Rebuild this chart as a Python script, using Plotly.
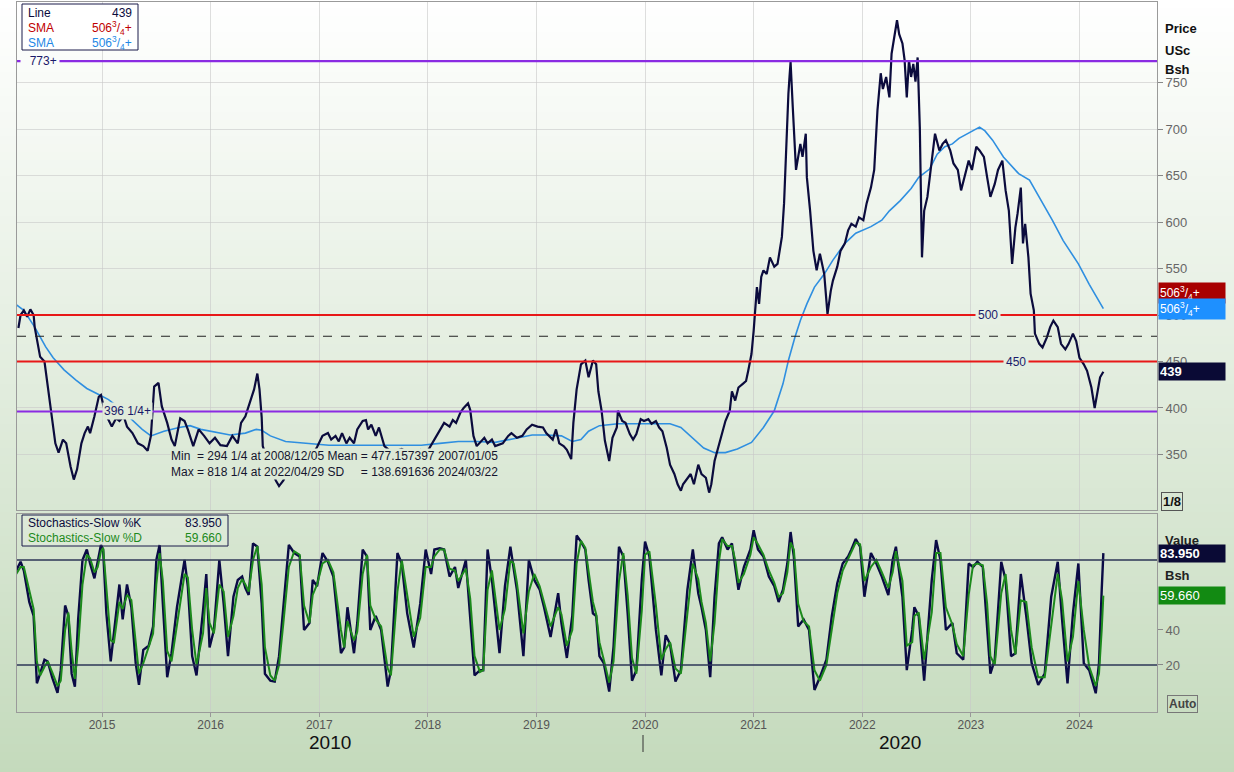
import plotly.graph_objects as go

# ---------------- DATA ----------------
price_dates = [2014.23, 2014.25, 2014.28, 2014.31, 2014.34, 2014.37, 2014.38, 2014.43, 2014.47, 2014.50,
               2014.54, 2014.57, 2014.60, 2014.64, 2014.67, 2014.71, 2014.74, 2014.77, 2014.81, 2014.84,
               2014.87, 2014.89, 2014.93, 2014.97, 2014.99, 2015.03, 2015.06, 2015.09, 2015.13, 2015.16,
               2015.20, 2015.23, 2015.28, 2015.33, 2015.38, 2015.42, 2015.45, 2015.48, 2015.52, 2015.55,
               2015.60, 2015.64, 2015.67, 2015.72, 2015.76, 2015.79, 2015.84, 2015.89, 2015.94, 2015.99,
               2016.04, 2016.09, 2016.15, 2016.20, 2016.25, 2016.28, 2016.32, 2016.37, 2016.40, 2016.43,
               2016.45, 2016.47, 2016.48, 2016.52, 2016.57, 2016.60, 2016.63, 2016.67, 2016.72, 2016.79,
               2016.86, 2016.93, 2016.98, 2017.03, 2017.08, 2017.11, 2017.15, 2017.18, 2017.21, 2017.25,
               2017.28, 2017.32, 2017.35, 2017.40, 2017.43, 2017.45, 2017.48, 2017.52, 2017.55, 2017.59,
               2017.60, 2017.67, 2017.76, 2017.84, 2017.93, 2017.99, 2018.04, 2018.09, 2018.15, 2018.20,
               2018.23, 2018.26, 2018.30, 2018.33, 2018.37, 2018.39, 2018.42, 2018.45, 2018.52, 2018.55,
               2018.59, 2018.62, 2018.69, 2018.74, 2018.77, 2018.82, 2018.87, 2018.91, 2018.96, 2019.01,
               2019.06, 2019.09, 2019.15, 2019.18, 2019.21, 2019.25, 2019.28, 2019.32, 2019.34, 2019.37,
               2019.41, 2019.45, 2019.48, 2019.52, 2019.55, 2019.57, 2019.60, 2019.63, 2019.67, 2019.70,
               2019.74, 2019.75, 2019.79, 2019.82, 2019.86, 2019.89, 2019.92, 2019.96, 2019.99, 2020.03,
               2020.06, 2020.10, 2020.13, 2020.16, 2020.20, 2020.23, 2020.27, 2020.30, 2020.33, 2020.35,
               2020.39, 2020.42, 2020.45, 2020.49, 2020.52, 2020.56, 2020.59, 2020.61, 2020.64, 2020.68,
               2020.71, 2020.74, 2020.78, 2020.80, 2020.83, 2020.86, 2020.90, 2020.93, 2020.95, 2020.98,
               2021.00, 2021.02, 2021.03, 2021.05, 2021.07, 2021.09, 2021.12, 2021.15, 2021.19, 2021.22,
               2021.26, 2021.28, 2021.30, 2021.32, 2021.33, 2021.34, 2021.36, 2021.38, 2021.39, 2021.43,
               2021.45, 2021.48, 2021.49, 2021.52, 2021.55, 2021.58, 2021.61, 2021.65, 2021.67, 2021.68,
               2021.71, 2021.73, 2021.77, 2021.80, 2021.84, 2021.87, 2021.90, 2021.94, 2021.97, 2022.01,
               2022.04, 2022.08, 2022.11, 2022.14, 2022.17, 2022.19, 2022.22, 2022.25, 2022.27, 2022.30,
               2022.32, 2022.34, 2022.37, 2022.39, 2022.41, 2022.43, 2022.45, 2022.47, 2022.49, 2022.51,
               2022.53, 2022.55, 2022.57, 2022.60, 2022.64, 2022.67, 2022.71, 2022.74, 2022.77, 2022.81,
               2022.84, 2022.88, 2022.91, 2022.95, 2022.98, 2023.01, 2023.05, 2023.08, 2023.12, 2023.15,
               2023.18, 2023.22, 2023.25, 2023.29, 2023.32, 2023.35, 2023.38, 2023.41, 2023.43, 2023.46,
               2023.48, 2023.50, 2023.53, 2023.55, 2023.58, 2023.59, 2023.63, 2023.66, 2023.70, 2023.73,
               2023.76, 2023.80, 2023.83, 2023.87, 2023.90, 2023.94, 2023.97, 2024.00, 2024.04, 2024.07,
               2024.11, 2024.14, 2024.16, 2024.19, 2024.22]
price_values = [486, 500, 505, 498, 506, 500, 487, 455, 450, 423,
                391, 362, 352, 366, 362, 337, 323, 334, 362, 373,
                380, 373, 391, 412, 414, 394, 387, 380, 389, 386,
                391, 380, 373, 362, 359, 354, 370, 423, 427, 402,
                384, 366, 359, 389, 386, 377, 359, 377, 370, 362,
                368, 360, 359, 370, 362, 384, 391, 409, 420, 437,
                420, 390, 359, 345, 330, 322, 316, 322, 335, 345,
                352, 348, 358, 370, 373, 366, 370, 364, 373, 362,
                368, 362, 377, 386, 387, 377, 382, 370, 379, 362,
                359, 352, 356, 350, 355, 352, 362, 373, 384, 380,
                387, 384, 395, 400, 405, 398, 370, 359, 368, 362,
                366, 359, 362, 370, 373, 368, 370, 377, 382, 380,
                379, 373, 366, 377, 362, 359, 355, 345, 384, 420,
                447, 451, 433, 451, 447, 418, 397, 365, 343, 368,
                379, 397, 386, 384, 372, 366, 372, 388, 386, 388,
                383, 386, 379, 375, 357, 339, 329, 318, 311, 318,
                325, 329, 318, 339, 329, 325, 309, 318, 343, 361,
                375, 386, 397, 418, 408, 422, 426, 429, 440, 458,
                483, 512, 530, 512, 541, 548, 544, 562, 552, 555,
                584, 620, 684, 738, 756, 772, 724, 677, 656, 684,
                670, 695, 648, 612, 569, 548, 566, 544, 512, 501,
                526, 537, 552, 569, 577, 591, 598, 595, 605, 602,
                620, 637, 656, 720, 760, 743, 756, 734, 781, 806,
                817, 802, 792, 774, 734, 774, 756, 770, 751, 777,
                702, 562, 612, 627, 666, 695, 677, 684, 688, 677,
                663, 656, 634, 652, 666, 656, 681, 677, 670, 648,
                627, 641, 656, 666, 634, 612, 555, 594, 609, 637,
                577, 598, 562, 523, 505, 480, 469, 465, 476, 487,
                494, 487, 469, 463, 469, 480, 472, 454, 447, 440,
                422, 400, 415, 433, 439]

sma_dates = [2014.21, 2014.28, 2014.38, 2014.48, 2014.55, 2014.65, 2014.76, 2014.86, 2014.96, 2015.06,
             2015.16, 2015.26, 2015.37, 2015.45, 2015.57, 2015.71, 2015.81, 2015.91, 2016.04, 2016.18,
             2016.32, 2016.42, 2016.47, 2016.55, 2016.69, 2016.86, 2017.09, 2017.43, 2017.77, 2017.94,
             2018.11, 2018.28, 2018.45, 2018.62, 2018.79, 2018.96, 2019.09, 2019.23, 2019.33, 2019.41,
             2019.48, 2019.58, 2019.75, 2019.92, 2020.10, 2020.23, 2020.33, 2020.44, 2020.54, 2020.64,
             2020.74, 2020.85, 2020.98, 2021.09, 2021.19, 2021.27, 2021.32, 2021.38, 2021.43, 2021.49,
             2021.56, 2021.65, 2021.73, 2021.84, 2021.94, 2022.08, 2022.18, 2022.25, 2022.35, 2022.45,
             2022.52, 2022.62, 2022.69, 2022.76, 2022.83, 2022.89, 2023.00, 2023.08, 2023.13, 2023.20,
             2023.30, 2023.44, 2023.54, 2023.65, 2023.75, 2023.85, 2023.99, 2024.09, 2024.22]
sma_values = [511, 505, 487, 466, 454, 441, 430, 421, 415, 409,
              400, 389, 377, 370, 375, 379, 381, 377, 374, 371,
              373, 377, 376, 370, 364, 362, 360, 360, 360, 360,
              362, 364, 364, 363, 367, 371, 371, 370, 364, 366,
              375, 381, 383, 383, 383, 383, 379, 368, 357, 352,
              352, 356, 363, 379, 397, 426, 451, 476, 494, 512,
              530, 544, 559, 577, 588, 595, 602, 612, 623, 636,
              648, 657, 673, 681, 684, 690, 697, 702, 698, 688,
              670, 652, 645, 623, 602, 580, 555, 533, 506.75]

stoch_dates = [2014.21, 2014.25, 2014.28, 2014.33, 2014.37, 2014.40, 2014.43, 2014.47, 2014.50, 2014.54,
               2014.59, 2014.62, 2014.66, 2014.69, 2014.72, 2014.75, 2014.78, 2014.82, 2014.86, 2014.89,
               2014.93, 2014.96, 2014.99, 2015.01, 2015.04, 2015.08, 2015.11, 2015.16, 2015.19, 2015.23,
               2015.27, 2015.31, 2015.34, 2015.38, 2015.43, 2015.47, 2015.50, 2015.53, 2015.56, 2015.60,
               2015.64, 2015.69, 2015.76, 2015.79, 2015.83, 2015.87, 2015.93, 2015.96, 2015.99, 2016.03,
               2016.08, 2016.12, 2016.16, 2016.21, 2016.25, 2016.29, 2016.32, 2016.35, 2016.39, 2016.43,
               2016.47, 2016.50, 2016.55, 2016.59, 2016.63, 2016.67, 2016.72, 2016.77, 2016.82, 2016.86,
               2016.91, 2016.94, 2016.98, 2017.03, 2017.08, 2017.13, 2017.20, 2017.23, 2017.26, 2017.32,
               2017.35, 2017.40, 2017.44, 2017.47, 2017.52, 2017.57, 2017.63, 2017.66, 2017.72, 2017.76,
               2017.81, 2017.87, 2017.93, 2017.98, 2018.03, 2018.06, 2018.11, 2018.15, 2018.20, 2018.25,
               2018.28, 2018.35, 2018.39, 2018.43, 2018.48, 2018.51, 2018.55, 2018.59, 2018.66, 2018.71,
               2018.76, 2018.79, 2018.82, 2018.88, 2018.93, 2018.98, 2019.03, 2019.07, 2019.13, 2019.20,
               2019.23, 2019.28, 2019.33, 2019.37, 2019.41, 2019.45, 2019.48, 2019.52, 2019.55, 2019.58,
               2019.62, 2019.67, 2019.71, 2019.76, 2019.80, 2019.84, 2019.88, 2019.92, 2019.97, 2020.00,
               2020.04, 2020.10, 2020.15, 2020.19, 2020.23, 2020.28, 2020.33, 2020.39, 2020.44, 2020.49,
               2020.52, 2020.56, 2020.60, 2020.64, 2020.68, 2020.71, 2020.76, 2020.80, 2020.83, 2020.86,
               2020.91, 2020.97, 2021.00, 2021.04, 2021.09, 2021.14, 2021.19, 2021.23, 2021.27, 2021.31,
               2021.34, 2021.37, 2021.41, 2021.46, 2021.51, 2021.56, 2021.61, 2021.67, 2021.72, 2021.77,
               2021.82, 2021.87, 2021.90, 2021.94, 2021.98, 2022.02, 2022.08, 2022.13, 2022.18, 2022.24,
               2022.28, 2022.31, 2022.37, 2022.41, 2022.46, 2022.48, 2022.52, 2022.57, 2022.64, 2022.68,
               2022.72, 2022.77, 2022.83, 2022.87, 2022.93, 2022.98, 2023.02, 2023.06, 2023.11, 2023.15,
               2023.18, 2023.22, 2023.28, 2023.32, 2023.37, 2023.41, 2023.46, 2023.51, 2023.56, 2023.62,
               2023.68, 2023.74, 2023.80, 2023.84, 2023.89, 2023.94, 2023.99, 2024.04, 2024.09, 2024.15,
               2024.18, 2024.205, 2024.22]
stoch_k = [74, 79, 74, 56, 48, 9.5, 15, 23, 22, 13,
           4, 17, 54, 48, 15, 7.6, 46, 80, 86, 78,
           69.5, 80, 88.6, 86, 49.5, 22, 40, 66, 46, 66,
           53, 21, 8.6, 28.6, 31, 42, 80, 88.6, 55, 13,
           26.7, 53, 80, 65, 25, 14, 51, 72, 30, 40,
           80, 55, 25, 59, 68.6, 70.5, 64, 60, 89.5, 87.6,
           55, 15, 11, 10.5, 25, 53, 88.6, 84, 82, 40,
           44, 68.6, 65, 84, 79, 70.5, 26.7, 30, 53, 26.7,
           44, 86, 82, 40, 48, 40, 7.6, 17, 84, 78,
           49.5, 30, 55, 86, 72, 86, 86.7, 86, 70.5, 76,
           64, 80, 48, 14, 17, 17, 86, 68.6, 26.7, 65,
           87.6, 74, 63, 25, 80, 68.6, 63, 53, 36, 61,
           44, 24, 48, 94, 90.5, 86, 68.6, 49.5, 48, 25,
           21, 4.8, 30.5, 87.6, 82, 49.5, 11, 17, 68.6, 90.5,
           82, 40, 14, 37, 32, 10.5, 17, 63, 86, 61,
           53, 40, 13, 59, 89.5, 93, 86, 89.5, 76, 63,
           76, 86, 97, 86, 82, 70.5, 65, 56, 63, 78,
           96, 82, 42, 46, 40, 5.7, 13, 23, 48, 66.7,
           78, 82, 86, 92, 87.6, 59, 84, 78, 70.5, 60,
           80, 87.6, 59, 17, 40, 53, 48, 11, 68.6, 91.4,
           80, 40, 44, 26.7, 23, 78, 76, 79, 76, 44,
           15, 23, 79, 68.6, 25, 26.7, 72, 48, 21, 8.6,
           15, 59, 79, 46, 9.5, 49.5, 78, 21, 17, 3.8,
           21, 63, 83.95]
stoch_d = [72, 76, 76, 62, 52, 22, 14, 19, 22, 16,
           8, 11, 40, 50, 28, 12, 30, 66, 83, 81,
           73, 76, 85, 87, 62, 34, 33, 56, 52, 60,
           57, 32, 15, 21, 30, 38, 66, 84, 68, 28,
           22, 44, 72, 70, 40, 20, 38, 64, 44, 38,
           66, 62, 36, 48, 64, 69, 66, 62, 80, 88,
           66, 30, 14, 11, 20, 44, 76, 85, 83, 54,
           44, 60, 66, 78, 80, 73, 40, 30, 45, 34,
           39, 72, 83, 54, 46, 42, 18, 14, 62, 80,
           59, 36, 47, 76, 76, 82, 86, 86, 75, 74,
           68, 75, 58, 25, 16, 17, 63, 74, 40, 52,
           80, 78, 67, 38, 62, 72, 65, 56, 42, 53,
           49, 31, 40, 78, 91, 87, 74, 56, 49, 33,
           23, 10, 22, 68, 84, 60, 24, 15, 51, 83,
           85, 54, 23, 29, 33, 18, 15, 48, 78, 69,
           56, 44, 22, 44, 79, 92, 88, 88, 80, 67,
           72, 83, 93, 89, 83, 74, 67, 59, 61, 73,
           90, 86, 55, 45, 42, 17, 11, 20, 40, 61,
           74, 81, 85, 90, 89, 68, 76, 80, 73, 64,
           73, 85, 68, 31, 33, 48, 50, 23, 50, 84,
           84, 53, 43, 32, 25, 60, 77, 78, 77, 55,
           25, 20, 61, 72, 40, 26, 57, 56, 30, 13,
           13, 44, 72, 57, 22, 36, 68, 40, 19, 8,
           15, 40, 59.66]

year_ticks = [2015, 2016, 2017, 2018, 2019, 2020, 2021, 2022, 2023, 2024]
year_labels = [str(y) for y in year_ticks]
price_ticks = [350, 400, 450, 500, 550, 600, 650, 700, 750]
stoch_ticks = [20, 40]
ref_high, ref_low = 773, 396.25
red_levels = [500, 450]
mean_value = 477.157397
last_price = 439
last_sma = "506<sup>3</sup>/<sub>4</sub>+"
last_k, last_d = 83.95, 59.66

# ---------------- LAYOUT HELPERS ----------------
W, H = 1234, 772
L, R, T, B = 17, 77, 2, 60
PW, PH = W - L - R, H - T - B


def px(x):
    return (x - L) / PW


def py(y):
    return (H - B - y) / PH


TOP_C = (255, 255, 255)
BOT_C = (196, 218, 188)


def bg_at(ypix):
    t = max(0.0, min(1.0, ypix / H))
    return 'rgb(%d,%d,%d)' % tuple(round(a + (b - a) * t) for a, b in zip(TOP_C, BOT_C))


FONT = "Liberation Sans, Arial, sans-serif"
NAVY = "#0b0b3d"

fig = go.Figure()

fig.add_trace(go.Scatter(x=sma_dates, y=sma_values, mode="lines",
                         line=dict(color="#2f8fe0", width=1.6), xaxis="x", yaxis="y",
                         hoverinfo="skip"))
fig.add_trace(go.Scatter(x=price_dates, y=price_values, mode="lines",
                         line=dict(color=NAVY, width=2.2), xaxis="x", yaxis="y",
                         hoverinfo="skip"))
fig.add_trace(go.Scatter(x=stoch_dates, y=stoch_k, mode="lines",
                         line=dict(color="#0a0a45", width=2.4), xaxis="x2", yaxis="y2",
                         hoverinfo="skip"))
fig.add_trace(go.Scatter(x=stoch_dates, y=stoch_d, mode="lines",
                         line=dict(color="#1c8a1c", width=2.0), xaxis="x2", yaxis="y2",
                         hoverinfo="skip"))

shapes = []
# background gradient
step = 8
for y0 in range(0, H, step):
    shapes.append(dict(type="rect", xref="paper", yref="paper", layer="below",
                       x0=px(0), x1=px(W), y0=py(min(H, y0 + step)), y1=py(y0),
                       fillcolor=bg_at(y0 + step / 2), line=dict(width=0)))
# reference lines (top panel)
for lv in (ref_high, ref_low):
    shapes.append(dict(type="line", xref="paper", yref="y", x0=0, x1=1, y0=lv, y1=lv,
                       line=dict(color="#8a2be2", width=2.2)))
for lv in red_levels:
    shapes.append(dict(type="line", xref="paper", yref="y", x0=0, x1=1, y0=lv, y1=lv,
                       line=dict(color="#e81818", width=2.2)))
shapes.append(dict(type="line", xref="paper", yref="y", x0=0, x1=1, y0=mean_value, y1=mean_value,
                   line=dict(color="#222222", width=1.2, dash="dash")))
# stochastic 80 / 20 lines
for lv in (80, 20):
    shapes.append(dict(type="line", xref="paper", yref="y2", x0=0, x1=1, y0=lv, y1=lv,
                       line=dict(color="#2c3656", width=1.4)))
# legend boxes
shapes.append(dict(type="rect", xref="paper", yref="paper", x0=px(22), x1=px(138), y0=py(50), y1=py(4),
                   fillcolor="white", line=dict(color="#1a1a4a", width=1)))
shapes.append(dict(type="rect", xref="paper", yref="paper", x0=px(22), x1=px(228), y0=py(546), y1=py(515),
                   fillcolor="rgba(255,255,255,0.15)", line=dict(color="#1a1a4a", width=1)))
# decade separator
shapes.append(dict(type="line", xref="paper", yref="paper", x0=px(643), x1=px(643), y0=py(752), y1=py(735),
                   line=dict(color="#333333", width=1)))

ann = []


def txt(x, y, s, color="#111", size=12, xanchor="left", yanchor="middle", bold=False, **kw):
    d = dict(xref="paper", yref="paper", x=px(x), y=py(y), text=("<b>%s</b>" % s) if bold else s,
             showarrow=False, xanchor=xanchor, yanchor=yanchor,
             font=dict(family=FONT, size=size, color=color))
    d.update(kw)
    ann.append(d)


# top-left legend
txt(26, 13, "Line", NAVY, 12)
txt(134, 13, str(last_price), NAVY, 12, xanchor="right")
txt(26, 28, "SMA", "#c00000", 12)
txt(134, 28, last_sma, "#c00000", 12, xanchor="right")
txt(26, 43, "SMA", "#1e88e5", 12)
txt(134, 43, last_sma, "#1e88e5", 12, xanchor="right")

# stochastic legend
txt(26, 523, "Stochastics-Slow %K", NAVY, 12)
txt(224, 523, "%.3f" % last_k, NAVY, 12, xanchor="right")
txt(26, 538, "Stochastics-Slow %D", "#1c8a1c", 12)
txt(224, 538, "%.3f" % last_d, "#1c8a1c", 12, xanchor="right")

# level labels
ann.append(dict(xref="paper", yref="y", x=px(20), y=ref_high, text="\u00a0\u00a0773+", showarrow=False,
                xanchor="left", font=dict(family=FONT, size=12, color="#1a1a6a"),
                bgcolor=bg_at(61), borderpad=2))
ann.append(dict(xref="paper", yref="y", x=px(127), y=ref_low, text="396 1/4+", showarrow=False,
                xanchor="center", font=dict(family=FONT, size=12, color="#1a1a6a"),
                bgcolor=bg_at(411), borderpad=1))
ann.append(dict(xref="paper", yref="y", x=px(988), y=500, text="500", showarrow=False,
                xanchor="center", font=dict(family=FONT, size=12, color="#1a1a6a"),
                bgcolor=bg_at(315), borderpad=2))
ann.append(dict(xref="paper", yref="y", x=px(1016), y=450, text="450", showarrow=False,
                xanchor="center", font=dict(family=FONT, size=12, color="#1a1a6a"),
                bgcolor=bg_at(362), borderpad=2))

# statistics text
nb = "\u00a0"
stats = ("Min" + nb * 2 + "= 294 1/4 at 2008/12/05 Mean = 477.157397 2007/01/05<br>"
         "Max = 818 1/4 at 2022/04/29 SD" + nb * 5 + "= 138.691636 2024/03/22")
ann.append(dict(xref="paper", yref="paper", x=px(170), y=py(448), text=stats, showarrow=False,
                xanchor="left", yanchor="top", align="left",
                font=dict(family=FONT, size=12, color="#15152e"), bgcolor=bg_at(462), borderpad=0))

# right axis titles
txt(1163, 29, "Price", "#111", 13, bold=True)
txt(1163, 50, "USc", "#111", 13, bold=True)
txt(1163, 70, "Bsh", "#111", 13, bold=True)
txt(1163, 540, "Value", "#222", 13, bold=True)
txt(1163, 575, "Bsh", "#222", 13, bold=True)

# right tags
ann.append(dict(xref="paper", yref="y", x=px(1158), y=506.75, yshift=16, text=last_sma, showarrow=False,
                xanchor="left", align="left", width=64, bgcolor="#a80000", borderpad=1,
                font=dict(family=FONT, size=12, color="white")))
ann.append(dict(xref="paper", yref="y", x=px(1158), y=506.75, text=last_sma, showarrow=False,
                xanchor="left", align="left", width=64, bgcolor="#1e90ff", borderpad=1,
                font=dict(family=FONT, size=12, color="white")))
ann.append(dict(xref="paper", yref="y", x=px(1158), y=last_price, text="<b>%d</b>" % last_price,
                showarrow=False, xanchor="left", align="left", width=64, bgcolor="#0a0a35", borderpad=1,
                font=dict(family=FONT, size=13, color="white")))
ann.append(dict(xref="paper", yref="y2", x=px(1158), y=last_k, text="<b>%.3f</b>" % last_k,
                showarrow=False, xanchor="left", align="left", width=64, bgcolor="#0a0a35", borderpad=1,
                font=dict(family=FONT, size=13, color="white")))
ann.append(dict(xref="paper", yref="y2", x=px(1158), y=last_d, text="%.3f" % last_d,
                showarrow=False, xanchor="left", align="left", width=64, bgcolor="#128a12", borderpad=1,
                font=dict(family=FONT, size=13, color="white")))
txt(1161, 502, "<b>1/8</b>", "#111", 13, bordercolor="#555", borderwidth=1, borderpad=1)
txt(1167, 704, "<b>Auto</b>", "#444", 12, bordercolor="#777", borderwidth=1, borderpad=1)

# decade labels
txt(330, 742, "2010", "#111", 19, xanchor="center")
txt(900, 742, "2020", "#111", 19, xanchor="center")

xr = [2014.217, 2024.714]
axis_common = dict(range=xr, tickvals=year_ticks, showgrid=True, gridcolor="rgba(200,200,200,0.6)",
                   gridwidth=1, zeroline=False, showline=True, linecolor="#9a9a9a", mirror=True)

fig.update_layout(
    width=W, height=H, margin=dict(l=L, r=R, t=T, b=B),
    paper_bgcolor=bg_at(400), plot_bgcolor="rgba(0,0,0,0)",
    showlegend=False, shapes=shapes, annotations=ann,
    xaxis=dict(axis_common, domain=[0, 1], anchor="y", showticklabels=False, ticks=""),
    yaxis=dict(domain=[py(510), 1], range=[290.3, 836.6], side="right", tickvals=price_ticks,
               ticks="outside", ticklen=5, tickcolor="#888", showgrid=True,
               gridcolor="rgba(200,200,200,0.6)", zeroline=False, showline=True, linecolor="#9a9a9a",
               mirror=True, anchor="x",
               tickfont=dict(family=FONT, size=13, color="#666")),
    xaxis2=dict(axis_common, domain=[0, 1], anchor="y2", ticktext=year_labels, ticks="outside",
                ticklen=4, tickcolor="#999", ticklabelstandoff=-2,
                tickfont=dict(family=FONT, size=12, color="#555")),
    yaxis2=dict(domain=[0, py(514)], range=[-6.9, 106.3], side="right", tickvals=stoch_ticks,
                ticks="outside", ticklen=5, tickcolor="#888", showgrid=False, zeroline=False,
                showline=True, linecolor="#9a9a9a", mirror=True, anchor="x2",
                tickfont=dict(family=FONT, size=13, color="#666")),
)

fig.write_html("out.html", config={"displayModeBar": False, "staticPlot": True},
               post_script="document.body.style.margin='0';document.body.style.padding='0';"
                           "document.documentElement.style.overflow='hidden';")
